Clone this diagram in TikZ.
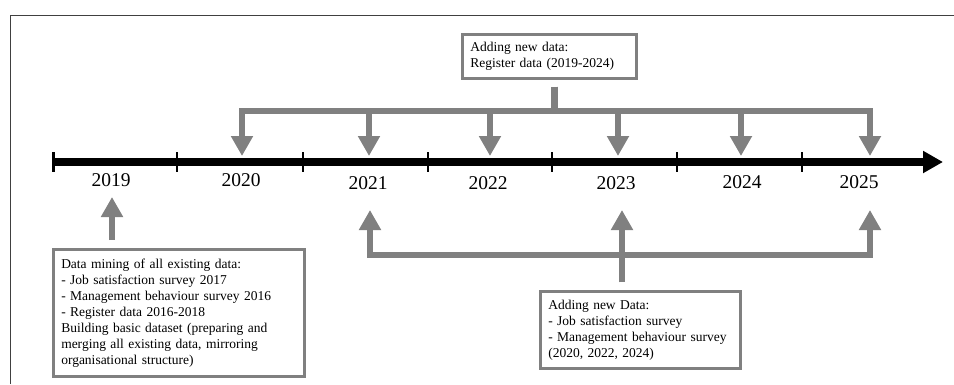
\documentclass[tikz,border=0pt]{standalone}
\usepackage{fontspec}
\setmainfont{Liberation Serif}
\usetikzlibrary{positioning, arrows.meta}
\definecolor{feedgray}{RGB}{128,128,128}
\tikzstyle{frameline} = [line width=1.5pt, draw=black!75]
\tikzstyle{timeline} = [line width=7.5pt, -{Triangle[length=20pt, width=21pt]}]
\tikzstyle{tickmark} = [line width=2.5pt]
\tikzstyle{year} = [font=\fontsize{19.5}{22}\selectfont, inner sep=0pt]
\tikzstyle{info} = [draw=feedgray, line width=2.5pt, align=left, anchor=north west,
 inner xsep=8pt, inner ysep=6pt, font=\fontsize{13.5}{16}\selectfont]
\tikzstyle{feed} = [draw=feedgray, line width=6.5pt]
\tikzstyle{feedarrow} = [feed, -{Triangle[length=20pt, width=21pt]}]

\begin{document}
\begin{tikzpicture}[x=1pt, y=-1pt]
\useasboundingbox (0,0) rectangle (954,384);

% frame
\draw[frameline] (10.5,384) -- (10.5,15.5) -- (954,15.5);

% time axis
\coordinate (axisstart) at (53.5,162);
\coordinate (axisend) at (943,162);
\draw[timeline] (axisstart) -- (axisend);
\foreach \x in {53.5,177,303,428,552,677,802}
    \draw[tickmark] (\x,152) -- (\x,172);

\node[year] (y2019) at (111,180) {2019};
\node[year] (y2020) at (241,180) {2020};
\node[year] (y2021) at (368,183) {2021};
\node[year] (y2022) at (488,183) {2022};
\node[year] (y2023) at (616,183) {2023};
\node[year] (y2024) at (742,182) {2024};
\node[year] (y2025) at (859,182) {2025};

% arrow tips
\coordinate (d2020) at (242,156);
\coordinate (d2021) at (369,156);
\coordinate (d2022) at (490,156);
\coordinate (d2023) at (618,156);
\coordinate (d2024) at (741,156);
\coordinate (d2025) at (870,156);
\coordinate (topbar) at (0,111);

\coordinate (u2019) at (112,197);
\coordinate (u2021) at (370,210);
\coordinate (u2023) at (622,210);
\coordinate (u2025) at (870,210);
\coordinate (botbar) at (0,255);

% boxes
\node[info, text width=158pt, minimum height=44pt] (regbox) at (461,33)
    {Adding new data:\\Register data (2019-2024)};

\node[info, text width=235pt, minimum height=127pt] (minebox) at (52,248)
    {Data mining of all existing data:\\
    - Job satisfaction survey 2017\\
    - Management behaviour survey 2016\\
    - Register data 2016-2018\\
    Building basic dataset (preparing and\\
    merging all existing data, mirroring\\
    organisational structure)};

\node[info, text width=184pt, minimum height=77pt] (surbox) at (539,290)
    {Adding new Data:\\
    - Job satisfaction survey\\
    - Management behaviour survey\\
    (2020, 2022, 2024)};

% register data arrows
\draw[feedarrow] ([xshift=5pt, yshift=-7pt]regbox.south) |- (d2020 |- topbar) -- (d2020);
\draw[feedarrow] ([xshift=5pt, yshift=-7pt]regbox.south) |- (d2025 |- topbar) -- (d2025);
\foreach \yr in {2021,2022,2023,2024}
    \draw[feedarrow] (d\yr |- topbar) -- (d\yr);

% survey arrows
\draw[feedarrow] ([yshift=8pt]u2023 |- surbox.north) |- (u2021 |- botbar) -- (u2021);
\draw[feedarrow] ([yshift=8pt]u2023 |- surbox.north) |- (u2025 |- botbar) -- (u2025);
\draw[feedarrow] ([yshift=8pt]u2023 |- surbox.north) -- (u2023);

% initial data
\draw[feedarrow] ([yshift=8pt]u2019 |- minebox.north) -- (u2019);

\end{tikzpicture}
\end{document}
